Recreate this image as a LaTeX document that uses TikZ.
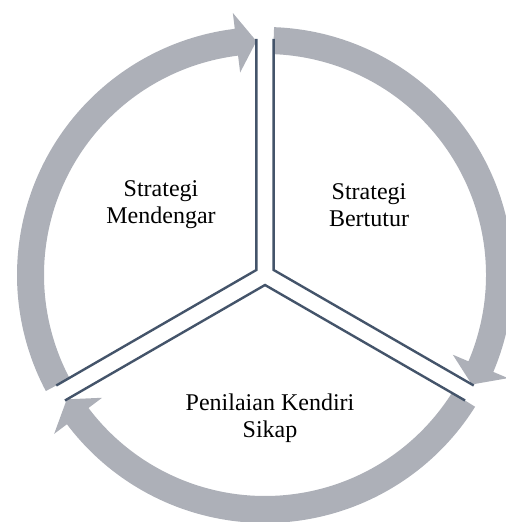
\documentclass[tikz,border=0pt]{standalone}
\usepackage{fontspec}
\setmainfont{Liberation Serif}
\usetikzlibrary{calc}
\definecolor{arrowgray}{RGB}{173,176,184}
\definecolor{edgeblue}{RGB}{68,84,106}
\newcommand{\cyclearrow}[2]{%
  \fill[arrowgray] ($(C)+(#1:124pt)$) arc[start angle=#1, end angle=#2+4.9, radius=124pt]
    -- ($(C)+(#2+4.9:132pt)$) -- ($(C)+(#2:117pt)$) -- ($(C)+(#2+4.9:102pt)$)
    -- ($(C)+(#2+4.9:110.5pt)$) arc[start angle=#2+4.9, end angle=#1, radius=110.5pt] -- cycle;}

\begin{document}
\begin{tikzpicture}[x=1pt,y=1pt,
    seg/.style={draw=edgeblue, line width=1.2pt},
    lbl/.style={align=center, font=\fontsize{12}{13.5}\selectfont}]
  \useasboundingbox (0,0) rectangle (253,261);
  \clip (0,0) rectangle (253,261);
  \coordinate (C) at (132.5,123.5);
  \coordinate (cUL) at ($(C)+(150:5)$);
  \coordinate (cUR) at ($(C)+(30:5)$);
  \coordinate (cB) at ($(C)+(270:5)$);

  \cyclearrow{207.9}{92.1}
  \cyclearrow{87.9}{-27.9}
  \cyclearrow{327.9}{212.1}

  \draw[seg] ($(cUL)+(90:115.5)$) -- (cUL) -- ($(cUL)+(210:115.5)$);
  \draw[seg] ($(cUR)+(90:115.5)$) -- (cUR) -- ($(cUR)+(330:115.5)$);
  \draw[seg] ($(cB)+(210:115.5)$) -- (cB) -- ($(cB)+(330:115.5)$);

  \node[lbl] (mend) at ($(C)+(-52,35)$) {Strategi\\Mendengar};
  \node[lbl] (bert) at ($(C)+(52,35)$) {Strategi\\Bertutur};
  \node[lbl] (sikap) at ($(C)+(2.5,-71.5)$) {Penilaian Kendiri\\Sikap};
\end{tikzpicture}
\end{document}
